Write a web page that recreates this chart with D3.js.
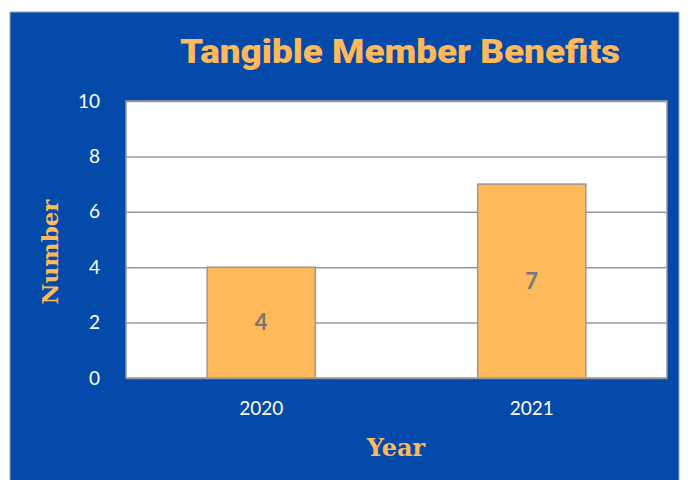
<!DOCTYPE html>
<html>
<head>
<meta charset="utf-8">
<script src="https://cdn.jsdelivr.net/npm/d3@7"></script>
<style>
  body { margin: 0; background: #fff; }
</style>
</head>
<body>
<script>
// chart data
var years = ["2020", "2021"];
var counts = [4, 7];
var yTicks = [0, 2, 4, 6, 8, 10];

var W = 692, H = 480;
var svg = d3.select("body").append("svg").attr("width", W).attr("height", H);

// blue frame
svg.append("rect")
    .attr("x", 10).attr("y", 12)
    .attr("width", 669).attr("height", 480)
    .style("fill", "#034AAB")
    .style("stroke", "#8fa6c9").style("stroke-width", 1);

var plot = { left: 126, top: 101, right: 667, bottom: 378 };

var x = d3.scaleBand().domain(years)
    .range([plot.left, plot.right])
    .paddingInner(0.6).paddingOuter(0.3);
var y = d3.scaleLinear().domain([0, 10]).range([plot.bottom, plot.top]);

// plot area
svg.append("rect")
    .attr("x", plot.left).attr("y", plot.top)
    .attr("width", plot.right - plot.left).attr("height", plot.bottom - plot.top)
    .style("fill", "#fff");

// gridlines
svg.append("g").selectAll("line").data(yTicks).enter().append("line")
    .attr("x1", plot.left).attr("x2", plot.right)
    .attr("y1", function(d) { return y(d) + 0.5; })
    .attr("y2", function(d) { return y(d) + 0.5; })
    .style("stroke", "#999").style("stroke-width", 1.5);

svg.append("rect")
    .attr("x", plot.left).attr("y", plot.top)
    .attr("width", plot.right - plot.left).attr("height", plot.bottom - plot.top)
    .style("fill", "none").style("stroke", "#999").style("stroke-width", 1.5);

// bars
svg.append("g").selectAll("rect").data(counts).enter().append("rect")
    .attr("x", function(d, i) { return x(years[i]); })
    .attr("y", function(d) { return y(d); })
    .attr("width", x.bandwidth())
    .attr("height", function(d) { return y(0) - y(d); })
    .style("fill", "#FDB95A")
    .style("stroke", "#999").style("stroke-width", 1.5);

// value labels
svg.append("g").selectAll("text").data(counts).enter().append("text")
    .attr("x", function(d, i) { return x(years[i]) + x.bandwidth() / 2; })
    .attr("y", function(d) { return (y(d) + y(0)) / 2; })
    .attr("dy", "0.35em")
    .attr("text-anchor", "middle")
    .style("font-family", "Lato, sans-serif").style("font-weight", "bold")
    .style("font-size", "22px").style("fill", "#777")
    .text(function(d) { return d; });

// y axis
var yAxis = svg.append("g")
    .attr("transform", "translate(" + (plot.left - 26) + ",0)")
    .call(d3.axisLeft(y).tickValues(yTicks).tickSize(0).tickPadding(0));
yAxis.select(".domain").remove();
yAxis.selectAll("text")
    .style("font-family", "Lato, sans-serif").style("font-size", "19px")
    .style("fill", "#fff");

// x axis
var xAxis = svg.append("g")
    .attr("transform", "translate(0," + plot.bottom + ")")
    .call(d3.axisBottom(x).tickSize(0).tickPadding(24));
xAxis.select(".domain").remove();
xAxis.selectAll("text")
    .style("font-family", "Lato, sans-serif").style("font-size", "19px")
    .style("fill", "#fff");

// titles
svg.append("text")
    .attr("x", 400).attr("y", 63)
    .attr("text-anchor", "middle")
    .attr("textLength", 440).attr("lengthAdjust", "spacingAndGlyphs")
    .style("font-family", "Roboto, sans-serif").style("font-weight", 900)
    .style("font-size", "33px").style("fill", "#FDB95A")
    .text("Tangible Member Benefits");

svg.append("text")
    .attr("transform", "translate(58,252) rotate(-90)")
    .attr("text-anchor", "middle")
    .style("font-family", "'DejaVu Serif', serif").style("font-weight", "bold")
    .style("font-size", "23px").style("fill", "#FDB95A")
    .text("Number");

svg.append("text")
    .attr("x", 396).attr("y", 456)
    .attr("text-anchor", "middle")
    .style("font-family", "'DejaVu Serif', serif").style("font-weight", "bold")
    .style("font-size", "24px").style("fill", "#FDB95A")
    .text("Year");
</script>
</body>
</html>
